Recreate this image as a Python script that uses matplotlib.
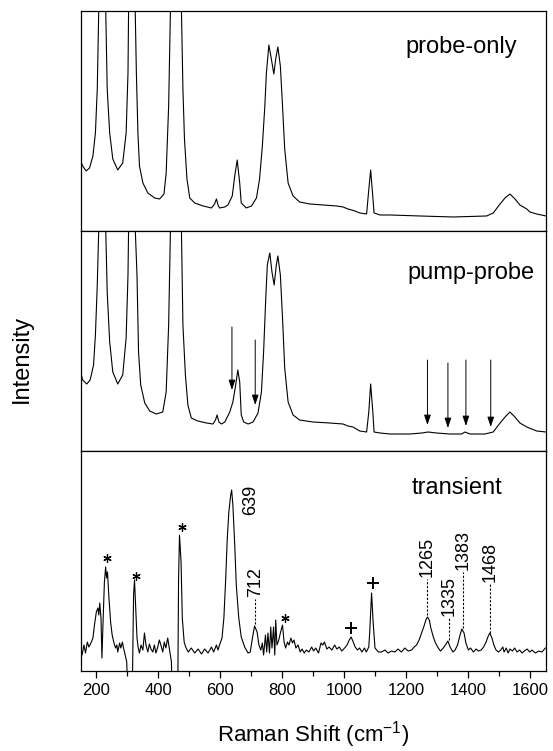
import numpy as np
import matplotlib
matplotlib.use("Agg")
import matplotlib.pyplot as plt

plt.rcParams['font.family'] = ['Liberation Sans', 'DejaVu Sans']
plt.rcParams['mathtext.fontset'] = 'custom'
plt.rcParams['mathtext.rm'] = 'Liberation Sans'

# --- datos (intensidad en unidades arbitrarias) ---
probe_x = [150, 157, 168, 179, 190, 198, 204, 209, 220, 231, 236, 244, 254, 270, 286, 297, 303, 305,
           315, 326, 330, 335, 340, 351, 367, 389, 405, 419, 426, 434, 440, 458, 475, 480, 485, 493,
           502, 518, 545, 572, 582, 588, 593, 598, 615, 625, 639, 647, 655, 663, 668, 684, 701, 717,
           727, 736, 744, 749, 757, 765, 773, 779, 786, 794, 801, 808, 819, 835, 856, 889, 932, 975,
           996, 1012, 1034, 1050, 1072, 1078, 1085, 1091, 1096, 1115, 1147, 1243, 1351, 1459, 1480,
           1502, 1518, 1534, 1550, 1566, 1588, 1598, 1620, 1650]
probe_y = [70, 65, 60, 63, 75, 98, 142, 225, 280, 225, 142, 98, 72, 61, 68, 98, 158, 225,
           280, 225, 158, 98, 65, 48, 38, 33, 32, 37, 58, 125, 225, 300, 225, 142, 92, 52,
           33, 28, 25, 23, 27, 32, 26, 23, 24, 26, 35, 55, 71, 48, 28, 23, 25, 33,
           52, 85, 125, 158, 186, 172, 157, 172, 184, 165, 125, 82, 48, 35, 29, 27, 26, 25,
           24, 22, 20, 18, 17, 38, 61, 38, 18, 16, 16, 15, 14, 15, 18,
           27, 33, 37, 32, 26, 22, 19, 17, 15]

pump_x = [150, 157, 170, 181, 192, 198, 204, 209, 220, 231, 236, 244, 254, 270, 286, 297, 303, 305,
          315, 326, 332, 337, 344, 357, 373, 394, 415, 426, 434, 440, 458, 475, 480, 488, 496, 507,
          528, 556, 577, 585, 590, 596, 604, 615, 631, 641, 650, 657, 663, 668, 676, 690, 706, 722,
          733, 740, 747, 752, 760, 767, 774, 781, 786, 794, 801, 808, 819, 835, 856, 899, 953, 996,
          1012, 1028, 1050, 1072, 1079, 1085, 1092, 1096, 1115, 1147, 1211, 1250, 1270, 1297, 1340,
          1378, 1389, 1405, 1453, 1480, 1502, 1521, 1534, 1550, 1566, 1588, 1620, 1650]
pump_y = [79, 71, 67, 71, 86, 116, 166, 225, 280, 225, 159, 109, 79, 67, 76, 113, 176, 225,
          280, 225, 176, 99, 66, 48, 40, 37, 39, 59, 126, 225, 300, 225, 126, 76, 46, 33,
          30, 28, 27, 31, 36, 29, 27, 29, 39, 49, 66, 81, 69, 36, 29, 27, 29, 38,
          59, 99, 153, 186, 198, 179, 166, 186, 195, 176, 133, 83, 49, 36, 31, 29, 28, 27,
          25, 24, 20, 19, 39, 67, 39, 19, 18, 17, 17, 18, 19, 18, 17,
          17, 19, 17, 17, 19, 28, 35, 39, 34, 28, 24, 20, 19]

trans_x = [149, 155, 161, 166, 172, 177, 185, 190, 195, 201, 206, 209, 212, 216, 219, 223, 227, 231,
           234, 237, 241, 247, 252, 257, 263, 267, 270, 276, 280, 285, 288, 294, 299, 303, 316, 321,
           324, 327, 332, 336, 340, 345, 351, 356, 361, 367, 372, 377, 383, 388, 393, 399, 404, 409,
           415, 420, 425, 431, 436, 443, 446, 463, 466, 469, 474, 478, 484, 489, 497, 507, 518, 529,
           540, 550, 561, 572, 579, 588, 593, 598, 606, 612, 618, 623, 628, 634, 637, 641, 647, 652,
           660, 668, 679, 690, 697, 704, 711, 719, 725, 731, 736, 740, 746, 750, 754, 759, 763, 767,
           772, 776, 779, 783, 789, 794, 801, 806, 811, 817, 822, 828, 833, 838, 844, 851, 858, 864,
           871, 878, 886, 895, 901, 908, 917, 925, 931, 936, 944, 951, 960, 969, 976, 984, 992, 1001,
           1009, 1016, 1022, 1029, 1035, 1043, 1049, 1057, 1065, 1071, 1079, 1082, 1088, 1093, 1099,
           1110, 1120, 1131, 1141, 1152, 1163, 1173, 1184, 1195, 1206, 1217, 1225, 1233, 1241, 1249,
           1256, 1263, 1268, 1274, 1279, 1287, 1294, 1303, 1310, 1319, 1328, 1334, 1341, 1350, 1357,
           1365, 1373, 1379, 1386, 1392, 1400, 1407, 1416, 1425, 1432, 1441, 1449, 1457, 1464, 1469,
           1476, 1482, 1489, 1497, 1504, 1511, 1515, 1522, 1528, 1534, 1542, 1549, 1557, 1565, 1573,
           1580, 1589, 1598, 1605, 1616, 1627, 1637, 1648]
trans_y = [23, 16, 26, 18, 29, 24, 29, 33, 46, 59, 63, 56, 68, 53, 13, 53, 89, 104,
           93, 99, 76, 49, 36, 29, 23, 26, 19, 28, 23, 29, 24, 16, 9, -40, -40, 76,
           91, 69, 33, 23, 18, 26, 21, 38, 26, 19, 27, 22, 19, 26, 18, 24, 31, 26,
           19, 29, 23, 33, 23, 9, -40, -40, 93, 136, 109, 53, 29, 24, 19, 23, 18, 22,
           17, 22, 18, 24, 19, 26, 21, 26, 33, 53, 93, 133, 159, 176, 181, 166, 126, 86,
           53, 34, 24, 18, 19, 33, 45, 39, 26, 21, 28, 16, 36, 19, 38, 18, 44, 23,
           44, 16, 51, 26, 31, 38, 46, 29, 23, 29, 26, 33, 28, 31, 23, 26, 19, 22,
           18, 21, 19, 24, 20, 23, 18, 28, 26, 29, 22, 24, 21, 26, 22, 24, 20, 23,
           26, 31, 34, 29, 24, 21, 23, 19, 23, 19, 24, 39, 78, 49, 23,
           19, 19, 21, 18, 20, 19, 22, 19, 23, 20, 21, 24, 26, 31, 38,
           44, 51, 54, 51, 43, 34, 28, 23, 20, 23, 27, 30, 24, 19, 21,
           26, 36, 42, 38, 28, 21, 23, 19, 22, 20, 21, 24, 29, 35, 38,
           33, 26, 21, 19, 21, 24, 19, 23, 18, 22, 20, 23, 19, 21, 18,
           20, 22, 19, 21, 18, 20, 19, 23]

# etiquetas de picos del espectro transitorio
peak_labels = ['639', '712', '1265', '1335', '1383', '1468']
label_x = [697, 713, 1267, 1337, 1383, 1469]
label_base = [156, 74, 94, 55, 101, 89]
line_bottom = [None, 47, 56, 31, 43, 38]

star_x = [236, 330, 477, 808]
star_y = [113, 95, 144, 53]
plus_x = [1021, 1091]
plus_y = [43, 88]

# flechas en pump-probe
arrow_x = [638, 713, 1268, 1334, 1392, 1472]
arrow_top = [124, 111, 91, 88, 91, 91]
arrow_tip = [61, 46, 26, 23, 25, 24]

fig = plt.figure(figsize=(5.53, 7.51), dpi=100)
gs = fig.add_gridspec(3, 1, left=0.1456, right=0.9873, bottom=0.1065, top=0.9854, hspace=0)
axes = [fig.add_subplot(gs[i]) for i in range(3)]

axes[0].plot(probe_x, probe_y, color='black', lw=0.8)
axes[1].plot(pump_x, pump_y, color='black', lw=0.8)
axes[2].plot(trans_x, trans_y, color='black', lw=0.8)

for ax in axes:
    ax.set_xlim(150, 1650)
    ax.set_ylim(0, 220)
    ax.set_yticks([])
    ax.set_xticks(np.arange(200, 1601, 200))
    ax.set_xticks(np.arange(200, 1650, 100), minor=True)
    ax.tick_params(axis='x', which='major', direction='out', length=5, width=0.9, labelsize=12)
    ax.tick_params(axis='x', which='minor', direction='out', length=3.5, width=0.9)
    for s in ax.spines.values():
        s.set_linewidth(0.9)

axes[0].tick_params(labelbottom=False)
axes[1].tick_params(labelbottom=False)

axes[0].text(1198, 0.835 * 220, 'probe-only', fontsize=17, ha='left', va='center')
axes[1].text(1203, 0.81 * 220, 'pump-probe', fontsize=17, ha='left', va='center')
axes[2].text(1218, 0.83 * 220, 'transient', fontsize=17, ha='left', va='center')

for x, y0, y1 in zip(arrow_x, arrow_top, arrow_tip):
    axes[1].annotate('', xy=(x, y1), xytext=(x, y0),
                     arrowprops=dict(arrowstyle='-|>,head_length=0.6,head_width=0.2',
                                     lw=0.7, color='black', shrinkA=0, shrinkB=0,
                                     mutation_scale=10))

ax = axes[2]
for lab, x, yb, yl in zip(peak_labels, label_x, label_base, line_bottom):
    ax.text(x, yb, lab, rotation=90, ha='center', va='bottom', fontsize=13)
    if yl is not None:
        ax.plot([x, x], [yl, yb - 2], color='black', lw=0.8, ls=(0, (2, 1.5)))

ax.plot(star_x, star_y, ls='none', marker=(6, 2, 0), ms=6, mew=0.9, color='black')
ax.plot(plus_x, plus_y, ls='none', marker='+', ms=9, mew=1.4, color='black')

fig.text(313 / 553, 1 - 735 / 751, 'Raman Shift (cm$^{-1}$)', fontsize=16, ha='center', va='center')
fig.text(22 / 553, 1 - 359 / 751, 'Intensity', rotation=90, fontsize=17, ha='center', va='center')

plt.savefig('out.png', dpi=100)
